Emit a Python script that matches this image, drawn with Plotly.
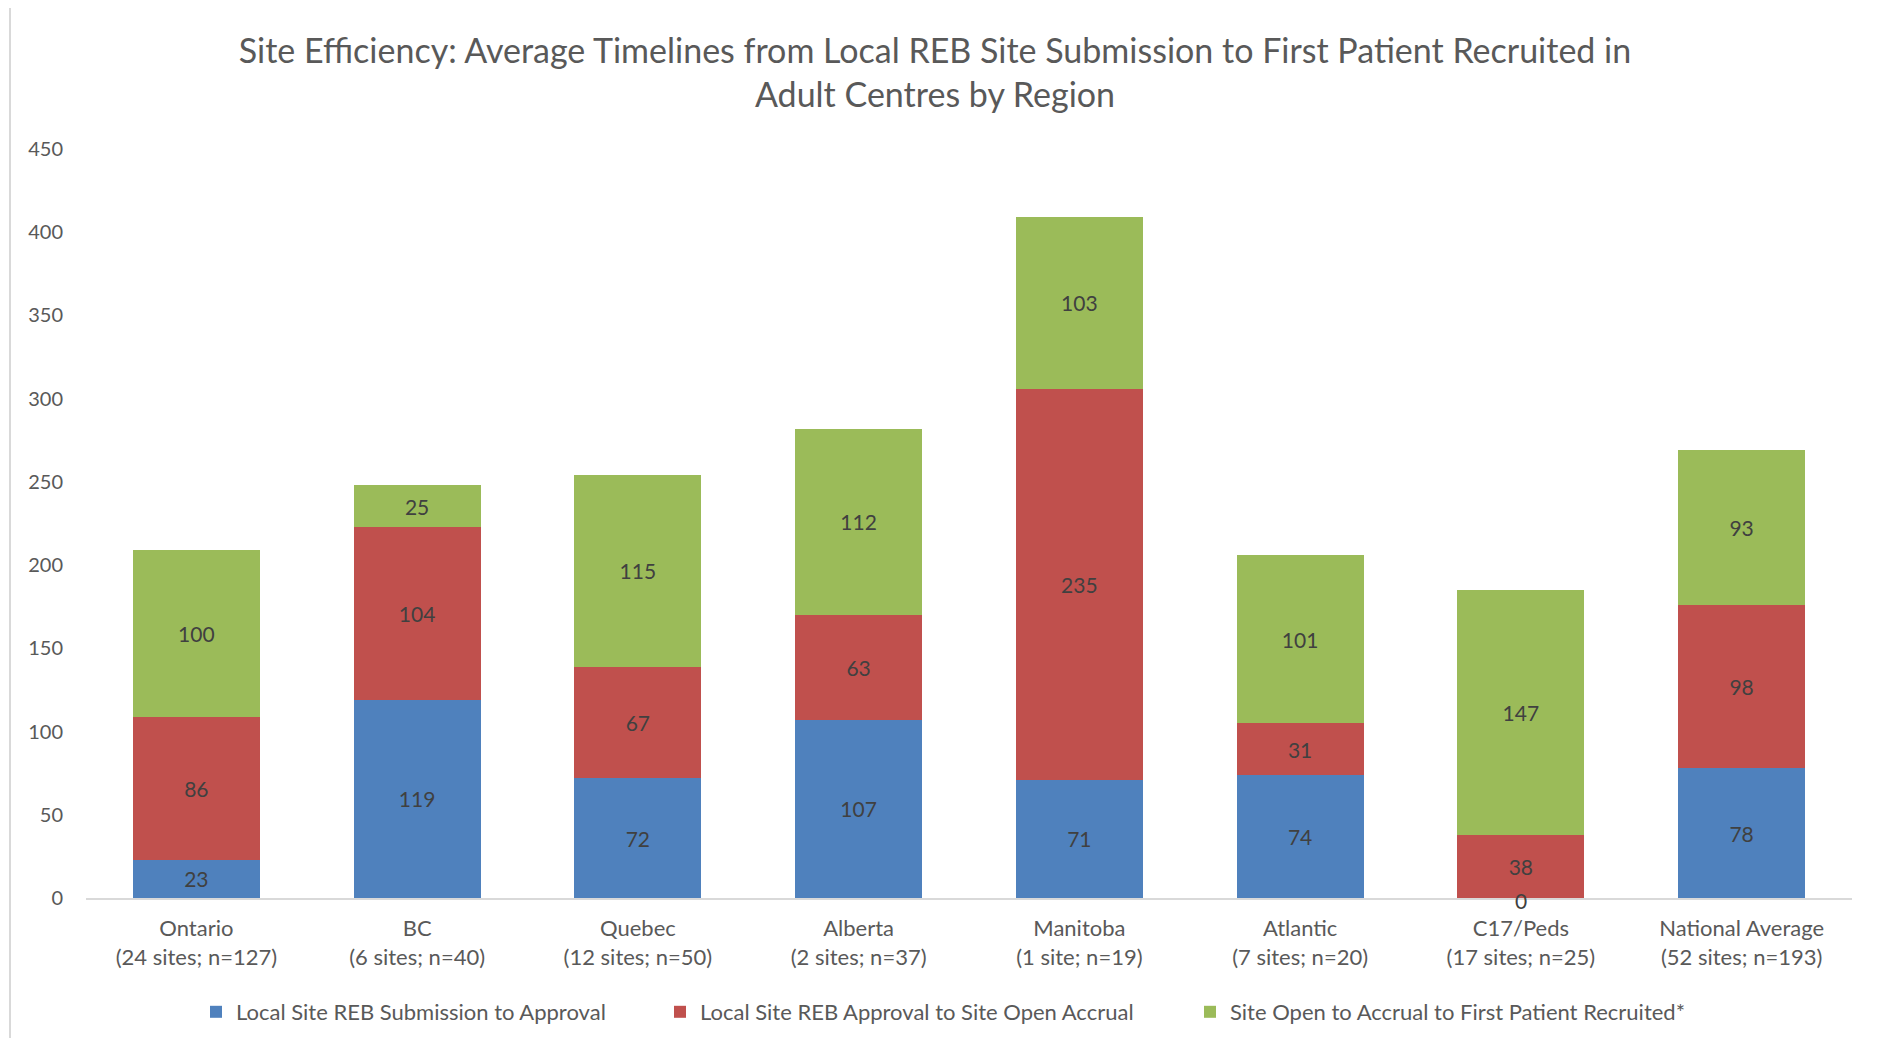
import plotly.graph_objects as go

categories = [
    "Ontario<br>(24 sites; n=127)",
    "BC<br>(6 sites; n=40)",
    "Quebec<br>(12 sites; n=50)",
    "Alberta<br>(2 sites; n=37)",
    "Manitoba<br>(1 site; n=19)",
    "Atlantic<br>(7 sites; n=20)",
    "C17/Peds<br>(17 sites; n=25)",
    "National Average<br>(52 sites; n=193)",
]
submission_to_approval = [23, 119, 72, 107, 71, 74, 0, 78]
approval_to_open = [86, 104, 67, 63, 235, 31, 38, 98]
open_to_first_patient = [100, 25, 115, 112, 103, 101, 147, 93]

series_names = [
    "Local Site REB Submission to Approval",
    "Local Site REB Approval to Site Open Accrual",
    "Site Open to Accrual to First Patient Recruited*",
]
series_values = [submission_to_approval, approval_to_open, open_to_first_patient]
colors = ["#4F81BD", "#C0504D", "#9BBB59"]
legend_ids = ["legend", "legend2", "legend3"]

FONT = "Lato"
W, H = 1872, 1030
L, R, T, B = 78, 28, 141, 140

fig = go.Figure()
for name, vals, col, lg in zip(series_names, series_values, colors, legend_ids):
    fig.add_trace(go.Bar(
        x=categories, y=vals, name=name, legend=lg, showlegend=True,
        marker=dict(color=col, line=dict(width=0)),
        text=[str(v) for v in vals],
        textposition="inside", insidetextanchor="middle",
        textfont=dict(family=FONT, size=21, color="#404040"),
        cliponaxis=False,
    ))

annotations = []
for cat, v in zip(categories, submission_to_approval):
    if v == 0:
        annotations.append(dict(x=cat, y=v, xref="x", yref="y", text=str(v),
                                showarrow=False, yanchor="middle", yshift=-2,
                                font=dict(family=FONT, size=21, color="#404040")))

pw = W - L - R
ph = H - T - B
def px_x(p):
    return (p - L) / pw
def px_y(p):
    return (H - B - p) / ph

legend_lefts = [188, 652, 1182]
legends = {}
for lg, xl in zip(legend_ids, legend_lefts):
    legends[lg] = dict(orientation="h", x=px_x(xl), xanchor="left",
                       y=px_y(1004), yanchor="middle", visible=True,
                       bgcolor="rgba(0,0,0,0)",
                       font=dict(family=FONT, size=22, color="#595959"),
                       itemclick=False, itemdoubleclick=False)

fig.update_layout(
    width=W, height=H, autosize=False, showlegend=True,
    margin=dict(l=L, r=R, t=T, b=B, pad=0, autoexpand=False),
    barmode="stack", bargap=0.425,
    plot_bgcolor="white", paper_bgcolor="white",
    title=dict(
        text="Site Efficiency: Average Timelines from Local REB Site Submission to First Patient Recruited in<br>Adult Centres by Region",
        x=(935 - 8) / W, xanchor="center", y=1 - 55 / H, yanchor="middle",
        font=dict(family=FONT, size=34, color="#595959"),
    ),
    xaxis=dict(showline=True, linecolor="#D9D9D9", linewidth=2, ticks="",
               tickfont=dict(family=FONT, size=22, color="#595959"),
               ticklabelstandoff=10, automargin=False,
               showgrid=False, fixedrange=True),
    yaxis=dict(range=[0, 450], dtick=50, showgrid=False, zeroline=False,
               showline=False, ticks="", automargin=False,
               tickfont=dict(family=FONT, size=20, color="#595959"),
               ticklabelstandoff=22),
    annotations=annotations,
    shapes=[dict(type="rect", xref="paper", yref="paper",
                 x0=px_x(2), x1=px_x(W - 1.5), y0=px_y(H + 20), y1=px_y(-2),
                 line=dict(color="#D9D9D9", width=2), fillcolor="rgba(0,0,0,0)",
                 layer="below")],
    uniformtext=dict(minsize=10, mode="show"),
    **legends,
)

fig.write_html("out.html")
